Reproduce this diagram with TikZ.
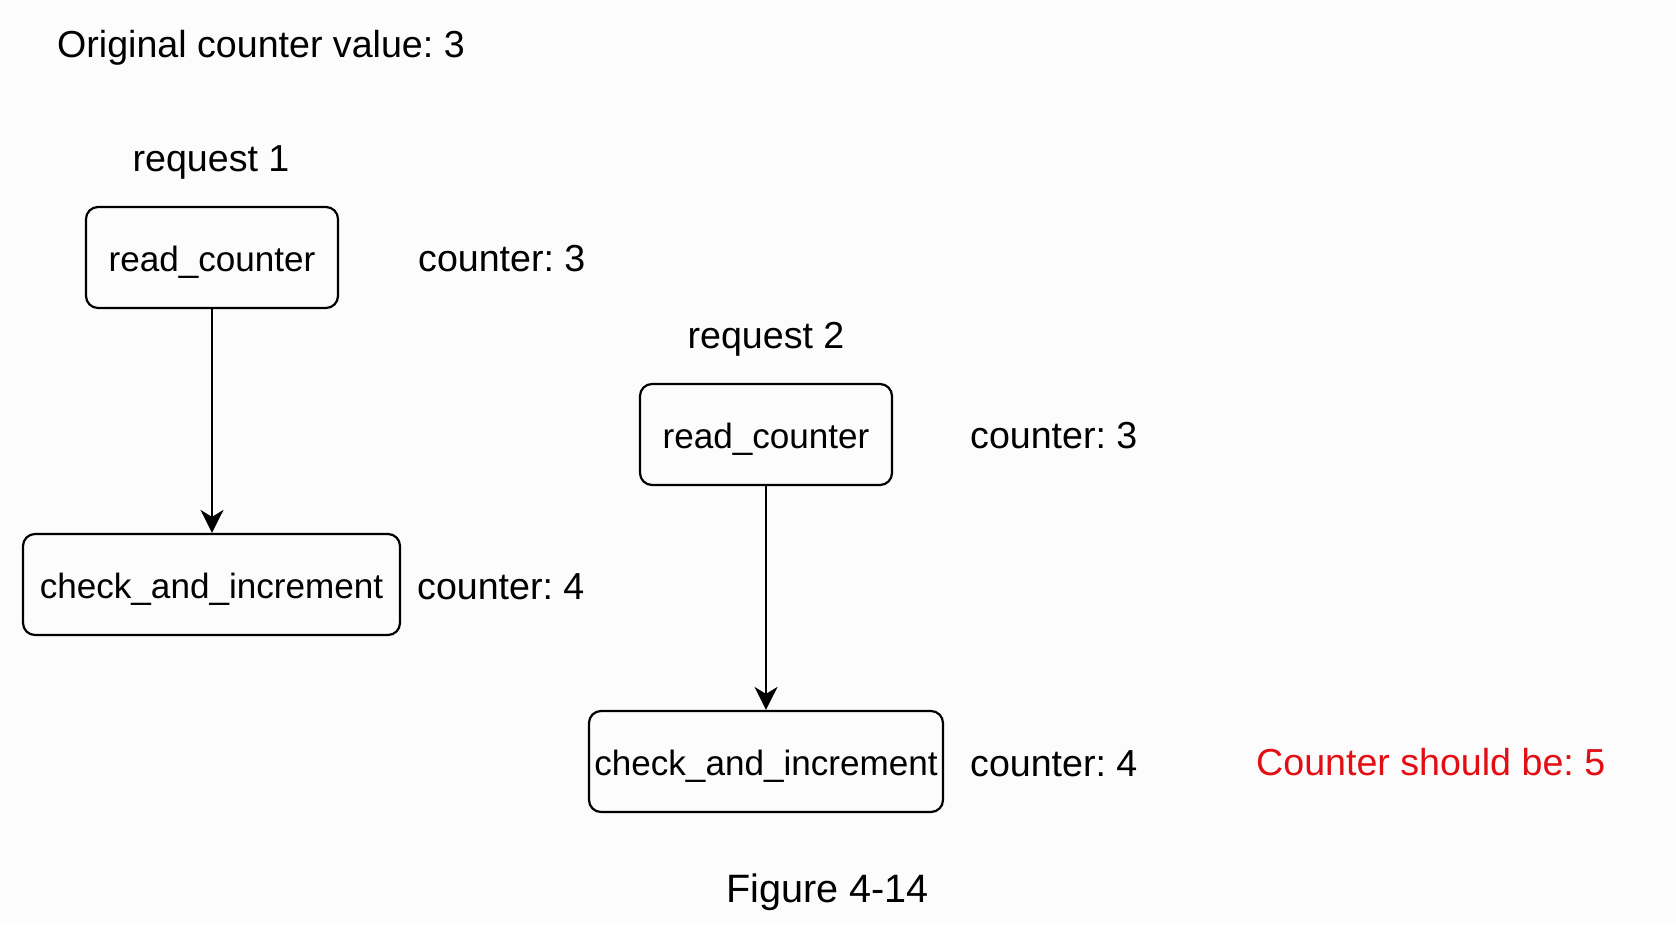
\documentclass[tikz,border=0pt]{standalone}
\usepackage{fontspec}
\setmainfont{Liberation Sans}
\usetikzlibrary{arrows.meta}
\frenchspacing
\definecolor{bg}{RGB}{252,252,252}
\definecolor{warnred}{RGB}{226,14,20}
\tikzset{
  procbox/.style={draw=black, line width=2.2pt, rounded corners=12pt, inner sep=0pt,
    minimum height=101pt, text height=28pt, text depth=0pt,
    font=\fontsize{35.1}{40}\selectfont},
  lbl/.style={inner sep=0pt, font=\fontsize{37.6}{44}\selectfont},
  flow/.style={line width=2pt, -{Stealth[length=23pt, width=23pt, inset=7pt]}}
}
\begin{document}
\begin{tikzpicture}[x=1pt, y=-1pt]
  \fill[bg] (0,0) rectangle (1676,924);
  \useasboundingbox (0,0) rectangle (1676,924);

  \node[lbl, anchor=base west] (orig) at (57,57.5) {Original counter value: 3};

  % request 1
  \node[lbl, anchor=base] (req1) at (211,171) {request 1};
  \node[procbox, minimum width=252pt] (r1) at (212,257.5) {read\_counter};
  \node[lbl, anchor=base west] (r1v) at (418,271) {counter: 3};
  \node[procbox, minimum width=377pt] (c1) at (211.5,584.5) {check\_and\_increment};
  \node[lbl, anchor=base west] (c1v) at (417,599) {counter: 4};
  \draw[flow] (r1.south) -- (r1.south |- c1.north);

  % request 2
  \node[lbl, anchor=base] (req2) at (766,348) {request 2};
  \node[procbox, minimum width=252pt] (r2) at (766,434.5) {read\_counter};
  \node[lbl, anchor=base west] (r2v) at (970,448) {counter: 3};
  \node[procbox, minimum width=354pt] (c2) at (766,761.5) {check\_and\_increment};
  \node[lbl, anchor=base west] (c2v) at (970,776) {counter: 4};
  \draw[flow] (r2.south) -- (r2.south |- c2.north);

  \node[lbl, anchor=base west, text=warnred] (should) at (1256,775) {Counter should be: 5};

  \node[anchor=base, inner sep=0pt, font=\fontsize{39.6}{46}\selectfont] (fig) at (827.5,902) {Figure 4-14};
\end{tikzpicture}
\end{document}
